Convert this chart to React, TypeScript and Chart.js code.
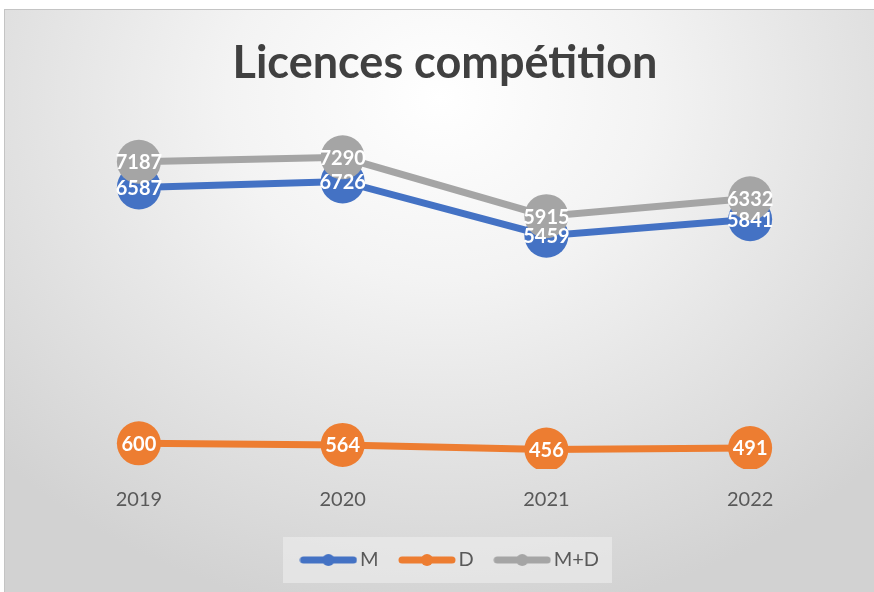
import React, { useEffect, useRef } from "react";
import { Chart, registerables } from "chart.js";

Chart.register(...registerables);

const years = ["2019", "2020", "2021", "2022"];
const seriesM = [6587, 6726, 5459, 5841];
const seriesD = [600, 564, 456, 491];
const seriesMD = [7187, 7290, 5915, 6332];
const seriesNames = ["M", "D", "M+D"];
const seriesColors = ["#4472C4", "#ED7D31", "#A5A5A5"];
const titleText = "Licences compétition";

function makeLegendSymbol(color: string): HTMLCanvasElement {
  const c = document.createElement("canvas");
  c.width = 58;
  c.height = 14;
  const ctx = c.getContext("2d")!;
  ctx.strokeStyle = color;
  ctx.lineWidth = 7;
  ctx.lineCap = "round";
  ctx.beginPath();
  ctx.moveTo(4, 7);
  ctx.lineTo(54, 7);
  ctx.stroke();
  ctx.fillStyle = color;
  ctx.beginPath();
  ctx.arc(29, 7, 6, 0, Math.PI * 2);
  ctx.fill();
  return c;
}

const dataLabelPlugin = {
  id: "dataLabels",
  afterDatasetsDraw(chart: any) {
    const ctx = chart.ctx;
    ctx.save();
    ctx.font = "bold 20px Lato";
    ctx.fillStyle = "#ffffff";
    ctx.textAlign = "center";
    ctx.textBaseline = "middle";
    chart.data.datasets.forEach((ds: any, i: number) => {
      const meta = chart.getDatasetMeta(i);
      meta.data.forEach((pt: any, j: number) => {
        ctx.fillText(String(ds.data[j]), pt.x, pt.y + 1);
      });
    });
    ctx.restore();
  },
};

const legendShiftPlugin = {
  id: "legendShift",
  afterLayout(chart: any) {
    const lg = chart.legend;
    if (!lg) return;
    lg.left += 8;
    lg.right += 8;
  },
};

const legendBoxPlugin = {
  id: "legendBox",
  beforeDraw(chart: any) {
    const lg = chart.legend;
    if (!lg || !lg.legendHitBoxes || !lg.legendHitBoxes.length) return;
    const hb = lg.legendHitBoxes;
    const left = Math.min(...hb.map((h: any) => h.left)) - 24;
    const right = Math.max(...hb.map((h: any) => h.left + h.width)) + 13;
    const cy = hb[0].top + hb[0].height / 2;
    const ctx = chart.ctx;
    ctx.save();
    ctx.fillStyle = "rgba(240,240,240,0.55)";
    ctx.fillRect(left, cy - 23, right - left, 46);
    ctx.restore();
  },
};

export default function App() {
  const ref = useRef<HTMLCanvasElement>(null);

  useEffect(() => {
    if (!ref.current) return;
    const symbols = seriesColors.map(makeLegendSymbol);
    const values = [seriesM, seriesD, seriesMD];
    const orders = [3, 2, 1];
    const chart = new Chart(ref.current, {
      type: "line",
      data: {
        labels: years,
        datasets: values.map((v, i) => ({
          label: seriesNames[i],
          data: v,
          borderColor: seriesColors[i],
          backgroundColor: seriesColors[i],
          pointBackgroundColor: seriesColors[i],
          pointBorderColor: seriesColors[i],
          borderWidth: 7,
          pointRadius: 22,
          pointHoverRadius: 22,
          pointBorderWidth: 0,
          tension: 0,
          order: orders[i],
        })),
      },
      options: {
        responsive: false,
        animation: false,
        events: [],
        layout: { padding: { top: 9, left: 37, right: 21, bottom: 20 } },
        scales: {
          x: {
            offset: true,
            grid: { display: false, drawTicks: false },
            border: { display: false },
            ticks: {
              padding: 19,
              color: "#595959",
              font: { family: "Lato", size: 20 },
            },
            afterFit(scale: any) {
              scale.height = 54;
            },
          },
          y: {
            display: false,
            min: 0,
            max: 8000,
          },
        },
        plugins: {
          title: {
            display: true,
            text: titleText,
            color: "#404040",
            font: { family: "Lato", size: 45, weight: "bold" },
            padding: { top: 27, bottom: 37 },
          },
          legend: {
            display: true,
            position: "bottom",
            labels: {
              usePointStyle: true,
              pointStyleWidth: 43,
              padding: 27,
              color: "#595959",
              font: { family: "Lato", size: 20 },
              generateLabels: (ch: any) =>
                ch.data.datasets.map((ds: any, i: number) => ({
                  text: ds.label,
                  fillStyle: seriesColors[i],
                  strokeStyle: seriesColors[i],
                  fontColor: "#595959",
                  lineWidth: 0,
                  hidden: false,
                  pointStyle: symbols[i],
                  datasetIndex: i,
                })),
            },
          },
          tooltip: { enabled: false },
        },
      },
      plugins: [dataLabelPlugin, legendShiftPlugin, legendBoxPlugin],
    });
    return () => chart.destroy();
  }, []);

  return (
    <div
      style={{
        position: "fixed",
        left: 0,
        top: 0,
        width: 874,
        height: 592,
        overflow: "hidden",
        background: "#ffffff",
      }}
    >
      <div
        style={{
          position: "absolute",
          left: 4,
          top: 9,
          right: 0,
          bottom: 0,
          borderTop: "1px solid #c4c4c4",
          borderLeft: "1px solid #c4c4c4",
          background:
            "radial-gradient(ellipse 70% 90% at 50% 15%, #ffffff 0%, #f3f3f3 35%, #d2d2d2 100%)",
        }}
      />
      <canvas
        ref={ref}
        width={874}
        height={600}
        style={{ position: "absolute", left: 0, top: 0, width: 874, height: 600 }}
      />
    </div>
  );
}
